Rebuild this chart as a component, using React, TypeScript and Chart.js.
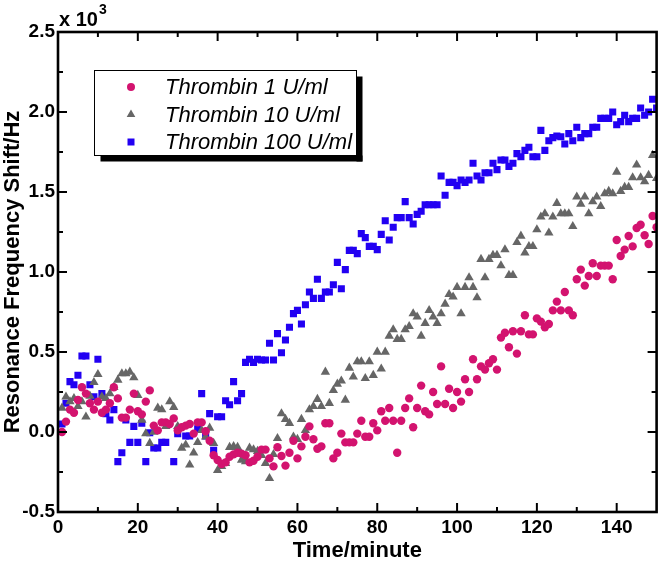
import React, { useEffect, useRef } from 'react';
import { Chart, registerables } from 'chart.js';

Chart.register(...registerables);

// first minute of each series (one reading per minute)
const startMinute = 1;

// Resonance frequency shift, in units of 10^3 Hz
const thrombin1: (number | null)[] = [
  0.0, 0.065, 0.14, 0.12, 0.2, 0.28, 0.24, 0.18, 0.14, 0.19,
  0.12, 0.14, 0.18, 0.28, 0.21, 0.09, 0.09, 0.14, 0.24, 0.13,
  0.11, 0.19, 0.26, 0.04, 0.01, 0.06, 0.06, 0.05, 0.085, 0.01,
  0.03, 0.04, 0.05, -0.01, 0.06, 0.06, 0.005, -0.055, -0.145, -0.175,
  -0.2, -0.19, -0.155, -0.14, -0.13, -0.135, -0.145, -0.19, -0.18, -0.155,
  -0.11, -0.11, -0.165, -0.215, -0.095, -0.15, -0.21, -0.13, -0.055, -0.165,
  -0.09, -0.03, 0.035, -0.045, -0.105, -0.09, 0.055, 0.055, -0.165, -0.13,
  -0.01, -0.065, -0.065, -0.065, -0.01, 0.07, -0.03, -0.03, 0.055, 0.01,
  0.13, 0.07, 0.15, 0.07, -0.13, 0.07, 0.15, 0.21, 0.03, 0.15,
  0.29, 0.13, 0.11, 0.25, 0.175, 0.41, 0.175, 0.27, 0.15, 0.25,
  0.19, 0.33, 0.25, 0.455, 0.33, 0.41, 0.39, 0.43, 0.455, 0.39,
  0.59, 0.62, 0.53, 0.63, 0.49, 0.63, 0.73, 0.61, 0.61, 0.71,
  0.69, 0.655, 0.675, 0.76, 0.815, 0.76, 0.875, 0.76, 0.73, 0.955,
  1.015, 0.915, 0.975, 1.055, 0.975, 1.04, 1.04, 1.04, 0.955, 1.2,
  1.1, 1.14, 1.225, 1.16, 1.275, 1.295, 1.23, 1.175, 1.35, 1.28,
];

const thrombin10: (number | null)[] = [
  0.15, 0.22, 0.19, 0.21, 0.16, 0.19, 0.095, 0.225, 0.31, 0.36,
  0.22, 0.21, 0.24, 0.28, 0.325, 0.365, 0.365, 0.375, 0.34, 0.23,
  0.075, -0.01, -0.07, 0.0, 0.15, 0.14, 0.035, 0.19, 0.155, 0.035,
  -0.1, -0.08, -0.205, -0.13, -0.065, 0.01, -0.03, 0.025, -0.07, -0.24,
  -0.215, -0.195, -0.095, -0.09, -0.095, -0.175, -0.185, -0.1, -0.11, -0.12,
  -0.145, -0.195, -0.29, -0.14, -0.04, 0.115, 0.08, 0.055, -0.03, -0.045,
  0.08, 0.01, 0.14, 0.16, 0.205, 0.16, 0.375, 0.18, 0.26, 0.3,
  0.32, 0.2, 0.4, 0.345, 0.44, 0.44, 0.335, 0.44, 0.355, 0.5,
  0.395, 0.5, 0.6, 0.64, 0.58, 0.58, 0.64, 0.66, 0.74, 0.72,
  0.6, 0.68, 0.76, 0.72, 0.68, 0.74, 0.8, 0.86, 0.845, 0.905,
  0.74, 0.905, 0.965, 0.905, 0.84, 1.08, 0.965, 1.08, 1.105, 1.105,
  1.04, 1.14, 0.98, 0.98, 1.185, 1.225, 1.12, 1.16, 1.16, 1.265,
  1.345, 1.365, 1.245, 1.345, 1.43, 1.365, 1.365, 1.365, 1.285, 1.47,
  1.425, 1.47, 1.365, 1.44, 1.47, 1.41, 1.49, 1.505, 1.49, 1.625,
  1.505, 1.53, 1.53, 1.59, 1.67, 1.59, 1.565, 1.605, 1.73, 1.585,
];

const thrombin100: (number | null)[] = [
  0.05, 0.18, 0.315, 0.295, 0.355, 0.475, 0.475, 0.295, 0.22, 0.455,
  0.24, 0.115, 0.075, 0.14, -0.185, -0.13, 0.075, -0.065, 0.035, -0.065,
  0.055, -0.185, -0.005, -0.1, -0.1, -0.065, -0.065, null, -0.185, -0.01,
  null, -0.025, -0.025, null, 0.02, 0.24, -0.025, 0.115, -0.115, 0.095,
  0.095, 0.195, 0.17, 0.315, 0.195, 0.24, 0.435, 0.455, 0.435, 0.455,
  0.45, 0.45, 0.555, 0.45, 0.615, 0.495, 0.575, 0.655, 0.74, 0.76,
  0.675, 0.795, 0.875, 0.835, 0.955, 0.835, 0.875, 0.875, 0.92, 1.06,
  0.895, 1.015, 1.135, 1.135, 1.115, 1.24, 1.215, 1.16, 1.16, 1.14,
  1.235, 1.32, 1.2, 1.28, 1.34, 1.34, 1.44, 1.34, 1.3, 1.36,
  1.38, 1.42, 1.42, 1.42, 1.42, 1.6, 1.48, 1.56, 1.56, 1.54,
  1.575, 1.56, 1.575, 1.68, 1.6, 1.575, 1.62, 1.62, 1.68, 1.64,
  1.7, 1.7, 1.66, 1.68, 1.74, 1.72, 1.76, 1.78, 1.72, 1.72,
  1.885, 1.76, 1.82, 1.84, 1.85, 1.845, 1.8, 1.865, 1.82, 1.905,
  1.84, 1.865, 1.865, 1.905, 1.905, 1.96, 1.96, 1.96, 2.0, 1.92,
  1.94, 1.98, 1.94, 1.96, 1.96, 2.025, 1.98, 2.0, 2.08, 2.025,
];

const seriesLabels = ['Thrombin 1 U/ml', 'Thrombin 10 U/ml', 'Thrombin 100 U/ml'];
const seriesColors = ['#d3136f', '#666666', '#2200f2'];
const seriesShapes = ['circle', 'triangle', 'rect'];

const xTickValues = [0, 20, 40, 60, 80, 100, 120, 140];
const xMinorStep = 10;
const yTickValues = [-0.5, 0.0, 0.5, 1.0, 1.5, 2.0, 2.5];
const yMinorStep = 0.25;

const xTitle = 'Time/minute';
const yTitle = 'Resonance Frequency Shift/Hz';

const FONT = "'Liberation Sans', Arial, sans-serif";

function toPoints(vals: (number | null)[]) {
  const pts: { x: number; y: number }[] = [];
  vals.forEach((v, i) => {
    if (v !== null) pts.push({ x: startMinute + i, y: v });
  });
  return pts;
}

function drawMarker(ctx: CanvasRenderingContext2D, shape: string, x: number, y: number, color: string) {
  ctx.fillStyle = color;
  ctx.beginPath();
  if (shape === 'circle') {
    ctx.arc(x, y, 4, 0, Math.PI * 2);
  } else if (shape === 'triangle') {
    const r = 5;
    ctx.moveTo(x, y - r);
    ctx.lineTo(x + r * 0.866, y + r * 0.5);
    ctx.lineTo(x - r * 0.866, y + r * 0.5);
    ctx.closePath();
  } else {
    ctx.rect(x - 3.5, y - 3.5, 7, 7);
  }
  ctx.fill();
}

const framePlugin = {
  id: 'frame',
  afterDraw(chart: any) {
    const { ctx, chartArea, scales } = chart;
    const { left, right, top, bottom } = chartArea;
    const xs = scales.x;
    const ys = scales.y;
    ctx.save();
    ctx.strokeStyle = '#000';
    ctx.lineWidth = 2;
    const line = (x1: number, y1: number, x2: number, y2: number) => {
      ctx.beginPath();
      ctx.moveTo(x1, y1);
      ctx.lineTo(x2, y2);
      ctx.stroke();
    };
    // x ticks (inward, top and bottom)
    for (let v = xs.min + xMinorStep; v < xs.max - 1e-9; v += xMinorStep) {
      const px = xs.getPixelForValue(v);
      const major = xTickValues.some((t) => Math.abs(t - v) < 1e-9);
      const len = major ? 9 : 5;
      line(px, bottom, px, bottom - len);
      line(px, top, px, top + len);
    }
    // y ticks (inward, left and right)
    for (let v = ys.min + yMinorStep; v < ys.max - 1e-9; v += yMinorStep) {
      const py = ys.getPixelForValue(v);
      const major = yTickValues.some((t) => Math.abs(t - v) < 1e-9);
      const len = major ? 9 : 5;
      line(left, py, left + len, py);
      line(right, py, right - len, py);
    }
    // frame
    ctx.lineWidth = 2.6;
    ctx.strokeRect(left, top, right - left, bottom - top);

    // x 10^3 multiplier
    ctx.fillStyle = '#000';
    ctx.textAlign = 'left';
    ctx.textBaseline = 'alphabetic';
    ctx.font = `bold 20px ${FONT}`;
    ctx.fillText('x 10', left + 1, 26);
    const w = ctx.measureText('x 10').width;
    ctx.font = `bold 14px ${FONT}`;
    ctx.fillText('3', left + 1 + w + 1, 14);

    // axis titles
    ctx.font = `bold 22px ${FONT}`;
    ctx.textAlign = 'center';
    ctx.textBaseline = 'middle';
    ctx.fillText(xTitle, (left + right) / 2, 551);
    ctx.save();
    ctx.translate(13, (top + bottom) / 2);
    ctx.rotate(-Math.PI / 2);
    ctx.fillText(yTitle, 0, 0);
    ctx.restore();

    // legend box
    const bx = 94.5, by = 70.5, bw = 262, bh = 85;
    ctx.fillStyle = '#000';
    ctx.fillRect(bx + 6, by + bh, bw, 6);
    ctx.fillRect(bx + bw, by + 6, 6, bh);
    ctx.fillStyle = '#fff';
    ctx.fillRect(bx, by, bw, bh);
    ctx.lineWidth = 1;
    ctx.strokeStyle = '#000';
    ctx.strokeRect(bx, by, bw, bh);
    const rows = [87, 114.5, 142];
    ctx.font = `italic 22px ${FONT}`;
    ctx.textAlign = 'left';
    ctx.textBaseline = 'middle';
    seriesLabels.forEach((lab, i) => {
      drawMarker(ctx, seriesShapes[i], 131, rows[i], seriesColors[i]);
      ctx.fillStyle = '#000';
      ctx.fillText(lab, 165, rows[i] + 1);
    });
    ctx.restore();
  },
};

export default function App() {
  const ref = useRef<HTMLCanvasElement | null>(null);
  useEffect(() => {
    document.body.style.margin = '0';
    const canvas = ref.current;
    if (!canvas) return;
    const seriesData = [thrombin1, thrombin10, thrombin100];
    const radii = [4.2, 5.4, 5.0];
    const chart = new Chart(canvas, {
      type: 'scatter',
      data: {
        datasets: seriesData.map((vals, i) => ({
          label: seriesLabels[i],
          data: toPoints(vals),
          pointStyle: seriesShapes[i] as any,
          pointRadius: radii[i],
          pointHoverRadius: radii[i],
          backgroundColor: seriesColors[i],
          borderColor: seriesColors[i],
          borderWidth: 0,
        })),
      },
      options: {
        animation: false,
        responsive: false,
        devicePixelRatio: 1,
        layout: { padding: { left: 0, top: 32, right: 3, bottom: 0 } },
        plugins: { legend: { display: false }, tooltip: { enabled: false } },
        scales: {
          x: {
            type: 'linear',
            min: 0,
            max: 150,
            grid: { display: false, drawTicks: false, tickLength: 0 },
            border: { display: false },
            afterBuildTicks: (s: any) => {
              s.ticks = xTickValues.map((v) => ({ value: v }));
            },
            afterFit: (s: any) => {
              s.height = 57;
            },
            ticks: {
              color: '#000',
              font: { family: FONT, size: 19, weight: 'bold' },
              padding: 4,
              maxRotation: 0,
              autoSkip: false,
              callback: (v: any) => String(v),
            },
          },
          y: {
            type: 'linear',
            min: -0.5,
            max: 2.5,
            grid: { display: false, drawTicks: false, tickLength: 0 },
            border: { display: false },
            afterBuildTicks: (s: any) => {
              s.ticks = yTickValues.map((v) => ({ value: v }));
            },
            afterFit: (s: any) => {
              s.width = 58;
            },
            ticks: {
              color: '#000',
              font: { family: FONT, size: 19, weight: 'bold' },
              padding: 3,
              autoSkip: false,
              callback: (v: any) => Number(v).toFixed(1),
            },
          },
        },
      },
      plugins: [framePlugin],
    });
    return () => chart.destroy();
  }, []);
  return (
    <div style={{ position: 'fixed', left: 0, top: 0, width: 662, height: 569, background: '#fff' }}>
      <canvas ref={ref} width={662} height={569} style={{ display: 'block' }} />
    </div>
  );
}
